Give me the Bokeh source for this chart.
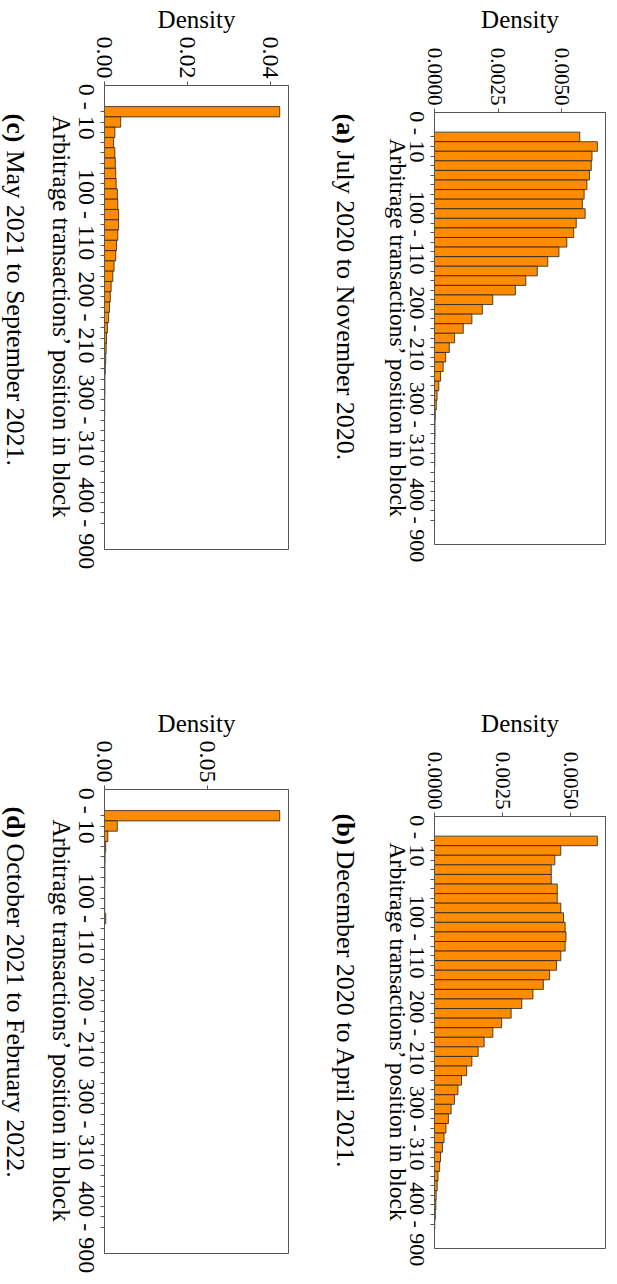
import math
from bokeh.plotting import figure
from bokeh.models import Range1d, FixedTicker, Label, LabelSet, ColumnDataSource
from bokeh.layouts import row, column
from bokeh.core.properties import value
from bokeh.embed import file_html
from bokeh.resources import INLINE

# ---------------- data ----------------
bin_labels = [f"{i} - {i + 10}" for i in range(0, 400, 10)] + ["400 - 900"]
shown_bins = ["0 - 10", "100 - 110", "200 - 210", "300 - 310", "400 - 900"]

dens_a = [0.00571, 0.00640, 0.00619, 0.00616, 0.00609, 0.00599, 0.00588, 0.00581, 0.00592, 0.00557,
          0.00547, 0.00520, 0.00489, 0.00445, 0.00404, 0.00359, 0.00318, 0.00229, 0.00188, 0.00147,
          0.00113, 0.00079, 0.00058, 0.00044, 0.00034, 0.00024, 0.00017, 0.00010, 0.00007, 0.00003,
          0.00002, 0.00002, 0.00001, 0.00001, 0.00001, 0.0, 0.0, 0.0, 0.0, 0.0, 0.000002]
dens_b = [0.00597, 0.00463, 0.00441, 0.00428, 0.00428, 0.00450, 0.00450, 0.00463, 0.00473, 0.00479,
          0.00482, 0.00479, 0.00463, 0.00447, 0.00422, 0.00399, 0.00361, 0.00320, 0.00281, 0.00246,
          0.00214, 0.00182, 0.00160, 0.00137, 0.00118, 0.00099, 0.00086, 0.00073, 0.00061, 0.00051,
          0.00042, 0.00035, 0.00029, 0.00022, 0.00019, 0.00013, 0.00010, 0.00006, 0.00005, 0.00003,
          0.00001]
dens_c = [0.0422, 0.0039, 0.0025, 0.0022, 0.0025, 0.0026, 0.0027, 0.0028, 0.0031, 0.0032,
          0.0034, 0.0034, 0.0032, 0.0029, 0.0027, 0.0023, 0.0020, 0.0016, 0.0014, 0.0012,
          0.0010, 0.0007, 0.0005, 0.0004, 0.0003, 0.0002, 0.0001, 0.0001, 0.00005, 0.00005,
          0.00003, 0.00002, 0.00001, 0.00001, 0.0, 0.0, 0.0, 0.0, 0.0, 0.0, 0.000001]
dens_d = [0.0850, 0.0062, 0.0016, 0.0006, 0.0003, 0.0002, 0.0002, 0.0001, 0.0001, 0.0001,
          0.0006, 0.0, 0.0, 0.0, 0.0, 0.0, 0.0, 0.0, 0.0, 0.0,
          0.0, 0.0, 0.0, 0.0, 0.0, 0.0, 0.0, 0.0, 0.0, 0.0,
          0.0, 0.0, 0.0, 0.0, 0.0, 0.0, 0.0, 0.0, 0.0, 0.0, 0.0]

ticks_a = [0.0, 0.0025, 0.005]
ticks_b = [0.0, 0.0025, 0.005]
ticks_c = [0.0, 0.02, 0.04]
ticks_d = [0.0, 0.05]
tick_text_a = ["0.0000", "0.0025", "0.0050"]
tick_text_b = ["0.0000", "0.0025", "0.0050"]
tick_text_c = ["0.00", "0.02", "0.04"]
tick_text_d = ["0.00", "0.05"]

tags = ["(a)", "(b)", "(c)", "(d)"]
captions = ["July 2020 to November 2020.", "December 2020 to April 2021.",
            "May 2021 to September 2021.", "October 2021 to February 2022."]

x_title = "Density"
y_title = "Arbitrage transactions\u2019 position in block"

SERIF = "Liberation Serif"
ORANGE = "#FF8C00"
FRAME = "#555555"
DOWN = -math.pi / 2   # text reading top-to-bottom


def no_align(fig):
    if "frame_align" in fig.properties():
        fig.frame_align = False


def strip(width, height, xr, yr):
    s = figure(width=width, height=height, x_range=xr, y_range=yr,
               x_axis_type=None, y_axis_type=None,
               min_border_left=0, min_border_right=0, min_border_top=0, min_border_bottom=0,
               output_backend="svg", toolbar_location=None)
    s.outline_line_color = None
    s.background_fill_color = "white"
    s.border_fill_color = "white"
    no_align(s)
    return s


def make_panel(dens, ticks, tick_texts, tag, caption, g):
    n = len(bin_labels)
    idx = list(range(n))
    pad = 0.05 * n
    ylo, yhi = -0.5 - pad, n - 0.5 + pad
    xmax = max(dens) * 1.05

    PW, TS, LS, MH = g["PW"], g["TS"], g["LS"], g["MH"]
    Lm, Tm, FW, FH = g["Lm"], g["Tm"], g["FW"], g["FH"]
    MW = PW - LS
    Rm = MW - Lm - FW
    Bm = MH - Tm - FH
    ppx = FW / xmax
    ppu = FH / (yhi - ylo)

    # ---- main plot: bars + tick marks ----
    p = figure(width=MW, height=MH, x_range=Range1d(0, xmax), y_range=Range1d(yhi, ylo),
               x_axis_location="above", y_axis_location="left",
               min_border_left=Lm, min_border_right=Rm, min_border_top=Tm, min_border_bottom=Bm,
               output_backend="svg", toolbar_location=None)
    no_align(p)
    p.background_fill_color = "white"
    p.border_fill_color = "white"
    p.outline_line_color = FRAME
    p.outline_line_width = 1
    p.xgrid.visible = False
    p.ygrid.visible = False

    src = ColumnDataSource(dict(idx=idx, dens=dens))
    p.hbar(y="idx", left=0, right="dens", height=1.0, source=src,
           fill_color=ORANGE, line_color="#222222", line_width=0.8)

    for ax, tk in ((p.xaxis[0], ticks), (p.yaxis[0], idx)):
        ax.ticker = FixedTicker(ticks=tk)
        ax.major_label_overrides = {t: "" for t in tk}
        ax.major_label_text_font_size = "0px"
        ax.major_label_standoff = 0
        ax.major_tick_out = 4
        ax.major_tick_in = 0
        ax.minor_tick_out = 0
        ax.minor_tick_in = 0
        ax.axis_line_color = FRAME
        ax.major_tick_line_color = FRAME
    p.xaxis[0].major_label_orientation = DOWN

    # ---- top strip: density tick labels + "Density" ----
    top = strip(PW, TS, Range1d(-(LS + Lm) / ppx, xmax + Rm / ppx), Range1d(TS, 0))
    tsrc = ColumnDataSource(dict(x=ticks, y=[TS + Tm - 7] * len(ticks), text=tick_texts))
    top.add_layout(LabelSet(x="x", y="y", text="text", source=tsrc, angle=DOWN,
                            text_align="right", text_baseline="middle",
                            text_font=value(SERIF), text_font_size=value(f"{g['tick_fs']}px"),
                            text_color="black"))
    top.add_layout(Label(x=xmax / 2, y=19, text=x_title, text_align="center",
                         text_baseline="middle", text_font=SERIF,
                         text_font_size=f"{g['dens_fs']}px", text_color="black"))

    # ---- left strip: category labels, axis title, caption ----
    left = strip(LS, MH, Range1d(0, LS), Range1d(yhi + Bm / ppu, ylo - Tm / ppu))
    csrc = ColumnDataSource(dict(x=[g["cat_x"]] * len(shown_bins),
                                 y=[bin_labels.index(b) for b in shown_bins],
                                 text=shown_bins))
    left.add_layout(LabelSet(x="x", y="y", text="text", source=csrc, angle=DOWN,
                             text_align="center", text_baseline="middle",
                             text_font=value(SERIF), text_font_size=value(f"{g['cat_fs']}px"),
                             text_color="black"))
    left.add_layout(Label(x=g["title_x"], y=(n - 1) / 2, angle=DOWN, text=y_title,
                          text_align="center", text_baseline="middle", text_font=SERIF,
                          text_font_size=f"{g['title_fs']}px", text_color="black"))
    left.add_layout(Label(x=g["cap_x"], y=ylo + g["cap_start"] / ppu, angle=DOWN, text=tag,
                          text_align="left", text_baseline="middle", text_font=SERIF,
                          text_font_style="bold", text_font_size="26px", text_color="black"))
    left.add_layout(Label(x=g["cap_x"], y=ylo + g["cap_rest"] / ppu, angle=DOWN, text=caption,
                          text_align="left", text_baseline="middle", text_font=SERIF,
                          text_font_size="26px", text_color="black"))

    return column(top, row(left, row(p, spacing=0), spacing=0), spacing=0)


geo_left = dict(PW=327, TS=80, LS=99, Lm=5, Tm=5, FW=184, FH=464,
                tick_fs=24, dens_fs=25, cat_fs=24, title_fs=25,
                cat_x=86, title_x=61, cap_x=15)
geo_right = dict(PW=290, TS=107, LS=102, Lm=5, Tm=5, FW=171, FH=432,
                 tick_fs=21, dens_fs=25, cat_fs=22, title_fs=23.5,
                 cat_x=90, title_x=70, cap_x=18)

g_c = dict(geo_left, MH=624, cap_start=28, cap_rest=65)
g_d = dict(geo_left, MH=493, cap_start=17, cap_rest=54)
g_a = dict(geo_right, MH=597, cap_start=1, cap_rest=38)
g_b = dict(geo_right, MH=466, cap_start=-3, cap_rest=34)

pc = make_panel(dens_c, ticks_c, tick_text_c, tags[2], captions[2], g_c)
pa = make_panel(dens_a, ticks_a, tick_text_a, tags[0], captions[0], g_a)
pd = make_panel(dens_d, ticks_d, tick_text_d, tags[3], captions[3], g_d)
pb = make_panel(dens_b, ticks_b, tick_text_b, tags[1], captions[1], g_b)

layout = column(row(pc, pa, spacing=0), row(pd, pb, spacing=0), spacing=0)

with open("out.html", "w") as f:
    f.write(file_html(layout, INLINE))
